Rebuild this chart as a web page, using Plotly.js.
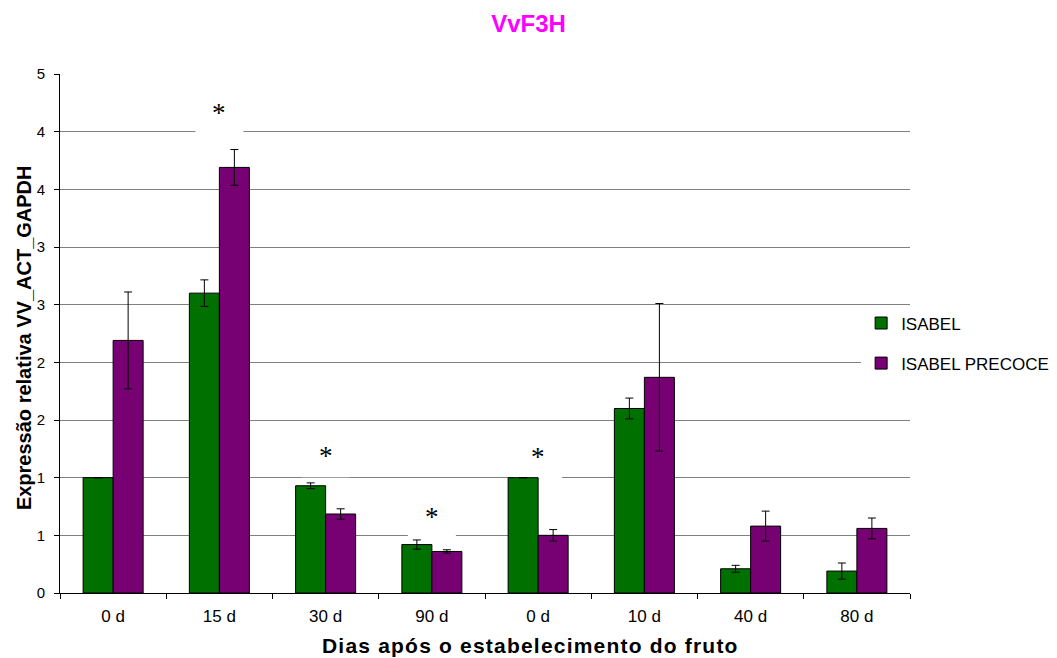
<!DOCTYPE html>
<html>
<head>
<meta charset="utf-8">
<script src="https://cdn.plot.ly/plotly-3.0.1.min.js"></script>
<style>html,body{margin:0;padding:0;background:#fff;}#chart{width:1057px;height:658px;}</style>
</head>
<body>
<div id="chart"></div>
<script>
// Data
const categories = ["0 d", "15 d", "30 d", "90 d", "0 d", "10 d", "40 d", "80 d"];
const isabel = [1.00, 2.60, 0.93, 0.42, 1.00, 1.60, 0.21, 0.19];
const isabelErr = [0.00, 0.115, 0.025, 0.04, 0.00, 0.09, 0.03, 0.07];
const precoce = [2.19, 3.69, 0.685, 0.36, 0.50, 1.87, 0.58, 0.56];
const precoceErr = [0.42, 0.155, 0.045, 0.015, 0.05, 0.64, 0.13, 0.09];
const yTickVals = [0, 0.5, 1, 1.5, 2, 2.5, 3, 3.5, 4, 4.5];
const yTickText = ["0", "1", "1", "2", "2", "3", "3", "4", "4", "5"];
const starIndex = [1, 2, 3, 4];
const starY = [4.20, 1.22, 0.69, 1.21];

const xs = categories.map((c, i) => i);
const FONT = "Liberation Sans, Arial, sans-serif";

const traces = [
  {
    type: "bar", name: "ISABEL", x: xs, y: isabel, legendgroup: "a",
    marker: {color: "#007000", line: {color: "#000", width: 1}},
    error_y: {type: "data", array: isabelErr, visible: true, color: "#000", thickness: 1, width: 4}
  },
  {
    type: "bar", name: "ISABEL PRECOCE", x: xs, y: precoce, legendgroup: "b",
    marker: {color: "#770073", line: {color: "#000", width: 1}},
    error_y: {type: "data", array: precoceErr, visible: true, color: "#000", thickness: 1, width: 4}
  }
];

// significance asterisks, each with a white text box that hides the gridlines behind it
const starAnnotations = starIndex.map((idx, k) => ({
  x: idx, y: starY[k], xref: "x", yref: "y", text: "*", showarrow: false,
  yanchor: "middle", yshift: -4,
  font: {family: "Liberation Serif, Times New Roman, serif", size: 27, color: "#000"}
}));
const starBoxes = starIndex.map((idx, k) => ({
  type: "rect", layer: "between", xref: "x", yref: "y",
  xsizemode: "pixel", ysizemode: "pixel", xanchor: idx, yanchor: starY[k],
  x0: -24, x1: 24, y0: -25, y1: 25,
  fillcolor: "#fff", line: {width: 0}
}));

const layout = {
  width: 1057, height: 658,
  margin: {l: 60, r: 147, t: 74, b: 65, autoexpand: false},
  paper_bgcolor: "#fff", plot_bgcolor: "#fff",
  font: {family: FONT, size: 15, color: "#000"},
  title: {text: "<b>VvF3H</b>", x: 0.5, xref: "container", xanchor: "center",
          y: 0.9635, yanchor: "middle",
          font: {family: FONT, size: 24, color: "#FF00FF"}},
  barmode: "group", bargap: 0.435, bargroupgap: 0,
  showlegend: true,
  legend: {x: 0.9425, xanchor: "left", y: 0.554, yanchor: "top", bgcolor: "#fff",
           traceorder: "grouped", tracegroupgap: 15,
           font: {family: FONT, size: 17, color: "#000"}},
  xaxis: {
    range: [-0.5, 7.5], tickvals: xs, ticktext: categories, ticks: "",
    ticklabelstandoff: 8,
    showline: true, linecolor: "#000", linewidth: 1, showgrid: false, zeroline: false,
    minor: {tick0: 0.5, dtick: 1, ticks: "outside", ticklen: 5, tickcolor: "#000", tickwidth: 1, showgrid: false},
    tickfont: {family: FONT, size: 17}
  },
  yaxis: {
    range: [0, 4.5], tickvals: yTickVals, ticktext: yTickText,
    ticks: "outside", ticklen: 5, tickcolor: "#000", ticklabelstandoff: 6,
    showline: true, linecolor: "#000", linewidth: 1,
    showgrid: true, gridcolor: "#808080", gridwidth: 1, zeroline: false,
    tickfont: {family: FONT, size: 15}
  },
  shapes: starBoxes,
  annotations: starAnnotations.concat([
    {xref: "paper", yref: "paper", x: 0.553, y: -0.101, xanchor: "center", yanchor: "middle",
     text: "<b><span style=\"letter-spacing:1.2px\">Dias após o estabelecimento do fruto</span></b>", showarrow: false,
     font: {family: FONT, size: 21, color: "#000"}},
    {xref: "paper", yref: "paper", x: -0.0424, y: 0.493, xanchor: "center", yanchor: "middle",
     textangle: -90, text: "<b>Expressão relativa VV_ACT_GAPDH</b>", showarrow: false,
     font: {family: FONT, size: 20, color: "#000"}}
  ])
};

Plotly.newPlot("chart", traces, layout, {displayModeBar: false, staticPlot: true});
</script>
</body>
</html>
